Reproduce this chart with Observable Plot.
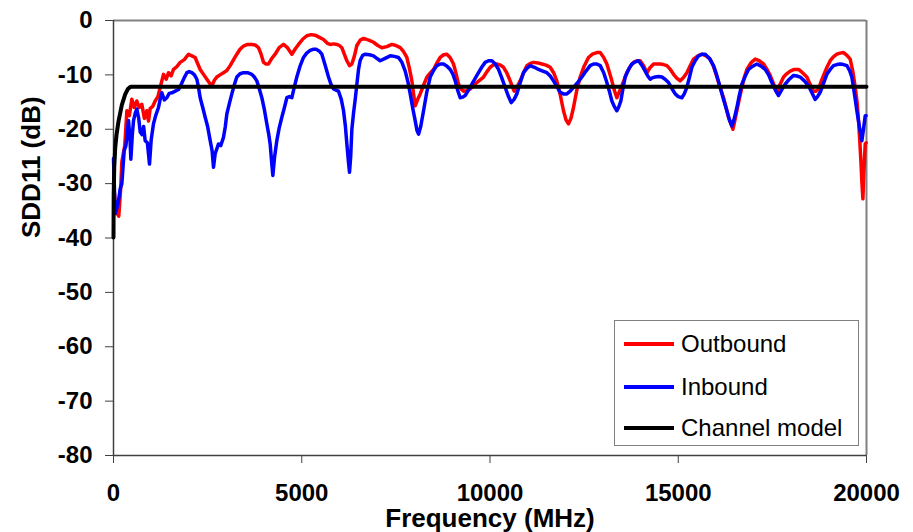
<!DOCTYPE html>
<html>
<head>
<meta charset="utf-8">
<script src="https://cdn.jsdelivr.net/npm/d3@7"></script>
<script src="https://cdn.jsdelivr.net/npm/@observablehq/plot@0.6"></script>
<style>
  html, body { margin: 0; padding: 0; background: #fff; }
  #wrap { position: relative; width: 913px; height: 532px; }
  #legend { position: absolute; left: 614px; top: 320px; width: 245px; height: 126px;
    border: 1.5px solid #808080; background: #fff; box-sizing: border-box;
    font-family: "Liberation Sans", Arial, sans-serif; font-size: 24px; color: #000; }
  .row { position: absolute; left: 0; height: 30px; display: flex; align-items: center; }
  .sw { width: 50px; height: 4px; margin-left: 9px; margin-right: 7px; }
</style>
</head>
<body>
<div id="wrap"></div>
<script>
// Frequency (MHz) / SDD11 (dB)
const outboundF = [0,40,100,140,190,222,300,355,420,487,550,620,680,753,820,885,930,974,1040,1107,1180,1240,1328,1400,1461,1530,1594,1680,1771,1880,1992,2080,2169,2240,2302,2400,2479,2550,2612,2680,2744,2830,2921,3010,3099,3190,3276,3360,3453,3560,3674,3760,3851,3920,3984,4050,4117,4200,4294,4400,4515,4620,4737,4830,4914,5030,5135,5250,5357,5470,5578,5680,5755,5850,5932,6000,6065,6130,6198,6270,6331,6400,6464,6553,6641,6780,6906,7020,7128,7260,7393,7500,7615,7700,7792,7860,7925,7970,8013,8080,8146,8230,8323,8410,8500,8590,8677,8770,8854,8940,9031,9100,9164,9230,9297,9380,9474,9560,9651,9740,9828,9920,10005,10100,10182,10270,10359,10450,10536,10600,10642,10720,10801,10890,10979,11070,11156,11270,11377,11490,11598,11690,11775,11860,11952,12020,12085,12150,12218,12300,12395,12500,12616,12720,12838,12927,13020,13104,13170,13237,13300,13369,13430,13502,13570,13635,13720,13812,13900,13989,14080,14167,14250,14344,14430,14521,14610,14698,14790,14875,14960,15052,15140,15229,15320,15406,15520,15627,15740,15849,15940,16026,16110,16203,16270,16336,16400,16451,16500,16557,16620,16690,16750,16823,16930,17044,17150,17265,17350,17442,17530,17619,17700,17797,17880,17974,18080,18195,18300,18416,18500,18593,18660,18726,18790,18859,18950,19036,19120,19213,19300,19390,19480,19567,19640,19700,19750,19789,19820,19851,19880,19904,19930,19966,19990];
const outboundDB = [-30,-33,-35.5,-36,-31,-26,-23,-16.6,-17.5,-14.5,-16,-14.8,-16,-15.4,-18,-16.6,-18.5,-16.2,-15.8,-14.8,-14,-12.3,-9.9,-10.8,-9.6,-10.2,-9.0,-8.5,-7.7,-7.2,-6.2,-6.5,-6.8,-8,-9.0,-10,-10.8,-11.5,-12.0,-11,-10.4,-10,-9.6,-9.2,-8.3,-7.2,-6.2,-5.3,-4.7,-4.4,-4.4,-4.5,-5.0,-6.2,-7.7,-8.0,-8.0,-7,-6.2,-5,-4.4,-5,-6.2,-5.2,-4.4,-3.4,-2.8,-2.6,-2.7,-3.1,-3.5,-4.2,-4.4,-4.3,-4.4,-4.6,-5.0,-6.2,-7.4,-8.3,-8.0,-6.5,-4.6,-3.6,-3.3,-3.6,-4.0,-4.6,-5.0,-4.8,-4.4,-4.6,-5.0,-5.7,-6.8,-8.8,-11.1,-13.5,-15.7,-14.5,-13.5,-12,-10.4,-9.7,-9.0,-7.8,-6.8,-6.3,-6.2,-6.8,-8.0,-9.8,-11.7,-12.6,-13.0,-12.9,-12.6,-12,-11.4,-10.9,-10.4,-9.4,-8.6,-8.1,-8.0,-8.2,-8.6,-9.7,-11.1,-12.3,-13.0,-12.2,-11.1,-9.6,-8.3,-7.9,-7.7,-7.8,-8.0,-8.2,-8.6,-9.6,-11.1,-13.5,-16.6,-18.3,-19.0,-18,-16.0,-13,-10.4,-8.4,-6.8,-6.2,-5.9,-5.9,-6.8,-8.0,-9.5,-11.1,-12.8,-14.2,-13.2,-12.0,-10.8,-9.6,-8.5,-7.7,-7.4,-7.4,-8.3,-9.6,-8.7,-8.0,-8.0,-8.0,-8.1,-8.3,-9.0,-9.9,-10.6,-11.1,-10.5,-9.6,-8.3,-7.1,-6.5,-6.2,-6.5,-7.1,-8.5,-10.4,-12.3,-14.2,-16,-17.8,-19,-20.0,-18.5,-16.6,-14.5,-12.3,-10.6,-9.0,-7.8,-7.1,-7.4,-8.0,-8.9,-10.1,-11.6,-13.2,-11.8,-10.4,-9.8,-9.3,-9.0,-9.0,-9.6,-10.4,-11.7,-13.0,-13.0,-12.6,-11.3,-10.1,-8.6,-7.4,-6.7,-6.2,-6.0,-5.9,-6.4,-7.1,-9.5,-12.3,-15,-18.4,-22,-25.8,-30,-32.8,-28,-22.7,-22.5];

const inboundF = [0,45,90,134,177,222,284,330,399,440,461,500,532,580,620,670,709,760,800,841,900,956,1000,1062,1120,1195,1240,1284,1350,1417,1480,1550,1640,1727,1770,1815,1880,1948,2010,2081,2150,2214,2260,2302,2370,2435,2500,2568,2620,2656,2700,2789,2850,2921,2970,3010,3080,3143,3210,3276,3360,3453,3560,3674,3740,3807,3870,3940,4010,4072,4120,4161,4200,4232,4280,4338,4400,4471,4540,4604,4670,4737,4800,4869,4950,5046,5130,5224,5300,5383,5460,5534,5620,5711,5780,5844,5910,5977,6050,6110,6160,6198,6240,6269,6300,6331,6376,6420,6464,6508,6553,6620,6685,6800,6906,7000,7084,7200,7349,7460,7570,7660,7748,7820,7881,7950,8013,8060,8102,8160,8235,8320,8412,8500,8589,8680,8766,8860,8943,9010,9076,9140,9208,9270,9341,9430,9518,9610,9695,9780,9872,9960,10049,10140,10226,10310,10403,10480,10563,10640,10713,10800,10890,10980,11067,11180,11289,11400,11510,11600,11687,11780,11864,11950,12041,12130,12218,12330,12440,12550,12660,12750,12838,12927,13020,13104,13170,13237,13300,13369,13420,13475,13530,13590,13680,13767,13860,13945,14030,14122,14190,14255,14320,14388,14480,14565,14650,14742,14830,14919,15000,15096,15160,15229,15300,15362,15450,15539,15630,15716,15830,15937,16020,16114,16200,16291,16360,16424,16490,16557,16620,16690,16780,16867,16980,17088,17200,17310,17400,17487,17580,17664,17750,17841,17950,18062,18150,18239,18350,18460,18550,18637,18700,18770,18860,18947,19036,19124,19213,19302,19390,19479,19550,19611,19680,19744,19810,19877,19920,19966,19990];
const inboundDB = [-25.4,-35.5,-34.5,-33.1,-31,-30,-23.9,-23,-18.4,-22,-25.5,-21,-18.4,-17,-16.3,-18,-20.5,-21,-19.5,-22.1,-22.5,-26.4,-22,-19.0,-17.5,-16.0,-14.5,-13.3,-14.6,-14.2,-13.4,-13.3,-13,-12.7,-12.2,-11.5,-10.5,-9.6,-9.4,-9.6,-10,-10.8,-12.4,-14.2,-16,-17.8,-19.5,-22.1,-24,-27.0,-24.5,-22.7,-23,-21.5,-19.5,-17.2,-15.2,-13.5,-11.8,-10.4,-9.8,-9.6,-9.6,-9.9,-10.4,-11.1,-12.5,-14.2,-16.5,-19.0,-20.8,-22.7,-26,-28.5,-25,-22.1,-19.8,-17.8,-16,-14.2,-14,-14.2,-12.3,-10.4,-8.5,-6.8,-6.0,-5.5,-5.3,-5.3,-5.6,-6.2,-8.2,-10.4,-11.8,-12.6,-12.8,-13.0,-14.5,-16.6,-19.5,-22.7,-26,-27.9,-25,-20,-17,-14.5,-11.7,-9.0,-7.3,-6.4,-6.2,-6.3,-6.5,-7,-7.4,-7,-6.5,-6.6,-6.8,-7.7,-9.3,-11.3,-13.5,-16.2,-18.4,-20.2,-20.9,-19.5,-16.6,-13.2,-10.4,-9.2,-8.3,-8.0,-8.0,-8.4,-9.0,-9.8,-11.1,-12.8,-14.2,-14.1,-13.8,-12.8,-11.7,-10.6,-9.6,-8.6,-7.7,-7.4,-7.4,-8.0,-9.0,-10.5,-12.3,-13.8,-15.1,-14.5,-13.5,-11.5,-9.6,-8.8,-8.3,-8.6,-9.0,-9.3,-9.6,-10.2,-11.1,-12.2,-13.2,-13.5,-13.5,-13,-12.3,-11.4,-10.4,-9.3,-8.3,-8.0,-8.0,-8.3,-9.6,-11.4,-13,-14.8,-15.8,-16.6,-15.9,-14.8,-12.6,-10.4,-9.0,-8.0,-7.6,-7.4,-8.2,-9.3,-10.2,-10.8,-10.5,-10.4,-10.3,-10.4,-10.8,-11.4,-12.5,-13.5,-14,-14.2,-13.5,-12.3,-10.4,-8.6,-7.4,-6.5,-6.2,-6.2,-7,-8.3,-10,-12.3,-14.5,-16.6,-18.3,-19.4,-18,-16.0,-13.8,-11.7,-10.2,-9.0,-8.4,-8.0,-8.4,-9.0,-10,-11.4,-12.8,-13.8,-12.7,-11.7,-10.8,-10.1,-10.2,-10.4,-11.1,-12.0,-13.3,-14.5,-14,-13.2,-11.5,-9.9,-9.0,-8.3,-8.1,-8.0,-8.1,-8.3,-9.2,-10.4,-13.5,-16.6,-19.5,-22.1,-20,-17.5,-17.5];

const modelF = [0,5,20,45,80,134,222,310,380,450,20000];
const modelDB = [-39.9,-32,-27,-23.5,-21,-18.5,-15.5,-13.6,-12.6,-12.2,-12.2];

const xTicks = [0,5000,10000,15000,20000];
const yTicks = [0,-10,-20,-30,-40,-50,-60,-70,-80];
const seriesNames = ["Outbound","Inbound","Channel model"];
const seriesColors = ["#ff0000","#0000ff","#000000"];
const xTitle = "Frequency (MHz)";
const yTitle = "SDD11 (dB)";

const outbound = outboundF.map((f,i) => ({f, v: outboundDB[i]}));
const inbound = inboundF.map((f,i) => ({f, v: inboundDB[i]}));
const model = modelF.map((f,i) => ({f, v: modelDB[i]}));

const font = "'Liberation Sans', Arial, sans-serif";

const chart = Plot.plot({
  width: 913,
  height: 532,
  marginLeft: 113,
  marginRight: 47,
  marginTop: 20,
  marginBottom: 77,
  style: {fontFamily: font, fontSize: "24px", fontWeight: "bold", color: "#000", background: "#fff"},
  x: {domain: [0, 20000]},
  y: {domain: [-80, 0]},
  marks: [
    Plot.ruleY([0], {stroke: "#808080", strokeWidth: 2}),
    Plot.ruleX([20000], {stroke: "#808080", strokeWidth: 2}),
    Plot.ruleX([0], {stroke: "#404040", strokeWidth: 1.5}),
    Plot.ruleY([-80], {stroke: "#404040", strokeWidth: 1.5}),
    Plot.axisX({ticks: xTicks, tickSize: 8, tickPadding: 20, tickFormat: d => String(d), fontSize: 24, stroke: "#404040", label: null}),
    Plot.axisY({ticks: yTicks, tickSize: 8, tickPadding: 13, tickFormat: d => String(d), fontSize: 24, stroke: "#404040", label: null}),
    Plot.line(outbound, {x: "f", y: "v", stroke: seriesColors[0], strokeWidth: 3.5, strokeLinejoin: "round"}),
    Plot.line(inbound, {x: "f", y: "v", stroke: seriesColors[1], strokeWidth: 3.5, strokeLinejoin: "round"}),
    Plot.line(model, {x: "f", y: "v", stroke: seriesColors[2], strokeWidth: 4, strokeLinejoin: "round"}),
    Plot.text([xTitle], {frameAnchor: "bottom", dy: 71, fontSize: 26, fontWeight: "bold", fill: "#000"}),
    Plot.text([yTitle], {frameAnchor: "left", dx: -82, rotate: -90, fontSize: 26, fontWeight: "bold", fill: "#000"})
  ]
});

const wrap = document.getElementById("wrap");
wrap.appendChild(chart);
const legend = document.createElement("div");
legend.id = "legend";
const rowTops = [8, 51, 92];
seriesNames.forEach((name, i) => {
  const row = document.createElement("div");
  row.className = "row";
  row.style.top = rowTops[i] + "px";
  const sw = document.createElement("div");
  sw.className = "sw";
  sw.style.background = seriesColors[i];
  const t = document.createElement("span");
  t.textContent = name;
  row.appendChild(sw);
  row.appendChild(t);
  legend.appendChild(row);
});
wrap.appendChild(legend);
</script>
</body>
</html>
